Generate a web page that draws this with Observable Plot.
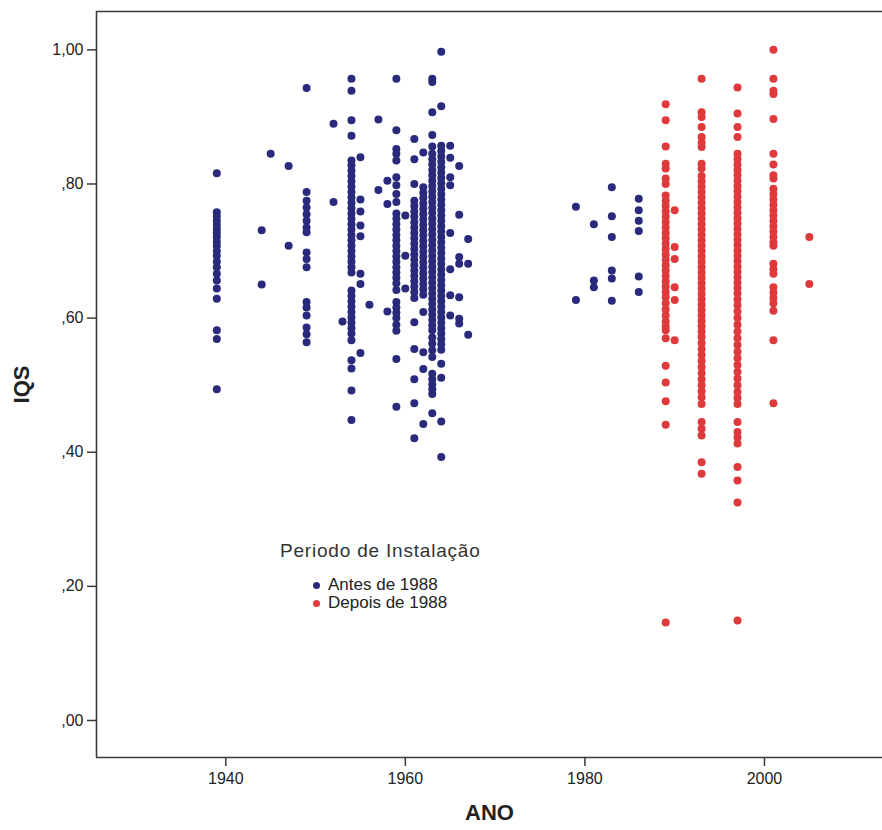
<!DOCTYPE html>
<html>
<head>
<meta charset="utf-8">
<script src="https://cdn.jsdelivr.net/npm/d3@7"></script>
<script src="https://cdn.jsdelivr.net/npm/@observablehq/plot@0.6"></script>
<style>
  body { margin: 0; background: #fff; }
  #wrap { position: relative; width: 882px; height: 830px; }
  #wrap svg { display: block; }
  g[aria-label="x-axis label"] text, g[aria-label="y-axis label"] text { font-weight: bold; font-size: 22px; }
  .lg { position: absolute; font-family: "Liberation Sans", Arial, sans-serif; color: #222; white-space: nowrap; }
  .lg-title { left: 280px; top: 540px; font-size: 19px; line-height: 22px; letter-spacing: 0.8px; color: #333; }
  .lg-item { left: 328px; font-size: 17px; line-height: 18px; }
  .lg-dot { position: absolute; width: 7px; height: 7px; border-radius: 50%; }
</style>
</head>
<body>
<div id="wrap"></div>
<script>
// ---- data ----
const xTicks = [1940, 1960, 1980, 2000];
const yTicks = [0, 0.2, 0.4, 0.6, 0.8, 1.0];
const periodos = ["Antes de 1988", "Depois de 1988"];
const cores = ["#2a2a7c", "#e0393c"];

const antes = [
  [1939, [0.816, 0.758, 0.752, 0.745, 0.739, 0.733, 0.727, 0.721, 0.714, 0.708, 0.700, 0.693, 0.684, 0.676, 0.666, 0.656, 0.644, 0.629, 0.582, 0.569, 0.494]],
  [1944, [0.731, 0.650]],
  [1945, [0.845]],
  [1947, [0.827, 0.708]],
  [1949, [0.943, 0.788, 0.775, 0.765, 0.755, 0.745, 0.735, 0.728, 0.698, 0.688, 0.676, 0.624, 0.616, 0.604, 0.586, 0.576, 0.564]],
  [1952, [0.890, 0.773]],
  [1953, [0.595]],
  [1954, [0.957, 0.939, 0.895, 0.872, 0.835, 0.828, 0.820, 0.812, 0.804, 0.796, 0.788, 0.780, 0.772, 0.764, 0.756, 0.748, 0.740, 0.732, 0.724, 0.716, 0.708, 0.700, 0.692, 0.684, 0.676, 0.668, 0.641, 0.633, 0.625, 0.617, 0.609, 0.601, 0.593, 0.585, 0.577, 0.567, 0.537, 0.525, 0.492, 0.448]],
  [1955, [0.840, 0.777, 0.759, 0.738, 0.722, 0.666, 0.651, 0.548]],
  [1956, [0.620]],
  [1957, [0.896, 0.791]],
  [1958, [0.805, 0.770, 0.610]],
  [1959, [0.957, 0.880, 0.852, 0.845, 0.835, 0.810, 0.798, 0.785, 0.773, 0.756, 0.748, 0.740, 0.732, 0.724, 0.716, 0.708, 0.700, 0.692, 0.684, 0.676, 0.668, 0.660, 0.652, 0.642, 0.624, 0.616, 0.608, 0.600, 0.590, 0.581, 0.539, 0.468]],
  [1960, [0.753, 0.693, 0.644]],
  [1961, [0.867, 0.837, 0.800, 0.775, 0.767, 0.759, 0.751, 0.743, 0.735, 0.727, 0.719, 0.711, 0.703, 0.695, 0.687, 0.679, 0.671, 0.663, 0.655, 0.647, 0.639, 0.630, 0.594, 0.554, 0.509, 0.473, 0.421]],
  [1962, [0.847, 0.795, 0.787, 0.779, 0.771, 0.763, 0.755, 0.747, 0.739, 0.731, 0.723, 0.715, 0.707, 0.699, 0.691, 0.683, 0.675, 0.667, 0.659, 0.651, 0.643, 0.635, 0.609, 0.549, 0.524, 0.442]],
  [1963, [0.957, 0.952, 0.907, 0.873, 0.856, 0.845, 0.837, 0.829, 0.821, 0.813, 0.805, 0.797, 0.789, 0.781, 0.773, 0.765, 0.757, 0.749, 0.741, 0.733, 0.725, 0.717, 0.709, 0.701, 0.693, 0.685, 0.677, 0.669, 0.661, 0.653, 0.645, 0.637, 0.629, 0.621, 0.613, 0.605, 0.597, 0.589, 0.582, 0.571, 0.562, 0.552, 0.542, 0.517, 0.509, 0.501, 0.494, 0.487, 0.458]],
  [1964, [0.997, 0.916, 0.857, 0.849, 0.841, 0.833, 0.825, 0.817, 0.809, 0.801, 0.793, 0.785, 0.777, 0.769, 0.761, 0.753, 0.745, 0.737, 0.729, 0.721, 0.713, 0.705, 0.697, 0.689, 0.681, 0.673, 0.665, 0.657, 0.649, 0.641, 0.633, 0.625, 0.617, 0.609, 0.601, 0.593, 0.585, 0.577, 0.569, 0.561, 0.553, 0.532, 0.511, 0.446, 0.393]],
  [1965, [0.857, 0.839, 0.810, 0.798, 0.727, 0.673, 0.634, 0.604]],
  [1966, [0.827, 0.754, 0.691, 0.681, 0.631, 0.599, 0.592]],
  [1967, [0.718, 0.681, 0.575]],
  [1979, [0.766, 0.627]],
  [1981, [0.740, 0.656, 0.646]],
  [1983, [0.795, 0.752, 0.721, 0.671, 0.659, 0.626]],
  [1986, [0.778, 0.761, 0.745, 0.730, 0.662, 0.639]]
];

const depois = [
  [1989, [0.919, 0.895, 0.856, 0.830, 0.823, 0.808, 0.800, 0.783, 0.775, 0.767, 0.759, 0.751, 0.743, 0.735, 0.727, 0.719, 0.711, 0.703, 0.695, 0.687, 0.679, 0.671, 0.663, 0.655, 0.647, 0.639, 0.631, 0.622, 0.613, 0.604, 0.595, 0.588, 0.582, 0.570, 0.529, 0.504, 0.476, 0.441, 0.146]],
  [1990, [0.761, 0.706, 0.688, 0.646, 0.627, 0.567]],
  [1993, [0.957, 0.907, 0.900, 0.885, 0.870, 0.862, 0.855, 0.830, 0.823, 0.812, 0.804, 0.796, 0.788, 0.780, 0.772, 0.764, 0.756, 0.748, 0.740, 0.732, 0.724, 0.716, 0.708, 0.700, 0.692, 0.684, 0.676, 0.668, 0.660, 0.652, 0.644, 0.636, 0.628, 0.620, 0.612, 0.604, 0.596, 0.588, 0.580, 0.572, 0.563, 0.554, 0.545, 0.536, 0.527, 0.518, 0.509, 0.500, 0.491, 0.482, 0.472, 0.445, 0.435, 0.425, 0.385, 0.368]],
  [1997, [0.944, 0.905, 0.885, 0.870, 0.845, 0.837, 0.829, 0.821, 0.813, 0.805, 0.797, 0.789, 0.781, 0.773, 0.765, 0.757, 0.749, 0.741, 0.733, 0.725, 0.717, 0.709, 0.701, 0.693, 0.685, 0.677, 0.669, 0.661, 0.653, 0.645, 0.637, 0.628, 0.619, 0.610, 0.600, 0.590, 0.580, 0.570, 0.560, 0.550, 0.540, 0.530, 0.520, 0.510, 0.500, 0.490, 0.481, 0.472, 0.445, 0.430, 0.422, 0.413, 0.378, 0.358, 0.325, 0.149]],
  [2001, [1.000, 0.957, 0.939, 0.934, 0.897, 0.845, 0.829, 0.813, 0.808, 0.793, 0.785, 0.777, 0.769, 0.761, 0.753, 0.745, 0.737, 0.729, 0.721, 0.713, 0.708, 0.681, 0.673, 0.666, 0.646, 0.638, 0.630, 0.622, 0.611, 0.567, 0.473]],
  [2005, [0.721, 0.651]]
];

// ---- build table ----
const rows = [];
for (const [ano, vals] of antes) for (const v of vals) rows.push({ano, iqs: v, periodo: periodos[0]});
for (const [ano, vals] of depois) for (const v of vals) rows.push({ano, iqs: v, periodo: periodos[1]});

const xDomain = [1925.6, 2013.15];
const yDomain = [-0.0552, 1.0572];
const fmtY = d => { const s = d.toFixed(2).replace(".", ","); return s.startsWith("0") ? s.slice(1) : s; };

const chart = Plot.plot({
  width: 882,
  height: 830,
  marginLeft: 96,
  marginRight: 0,
  marginTop: 11,
  marginBottom: 73,
  style: {fontFamily: "'Liberation Sans', Arial, sans-serif", fontSize: "16px", color: "#222", background: "#fff"},
  x: {domain: xDomain},
  y: {domain: yDomain},
  color: {domain: periodos, range: cores},
  marks: [
    Plot.ruleY([yDomain[1]], {stroke: "#3a3a3a", strokeWidth: 1.6}),
    Plot.dot(rows, {x: "ano", y: "iqs", fill: "periodo", r: 4, stroke: "none"}),
    Plot.ruleX([xDomain[0]], {stroke: "#3a3a3a", strokeWidth: 1.6}),
    Plot.ruleY([yDomain[0]], {stroke: "#3a3a3a", strokeWidth: 1.6}),
    Plot.axisX({ticks: xTicks, tickFormat: d => String(d), tickSize: 9, tickPadding: 6, stroke: "#3a3a3a", strokeWidth: 1.5,
      label: "ANO", labelAnchor: "center", labelArrow: "none", labelOffset: 62}),
    Plot.axisY({ticks: yTicks, tickFormat: fmtY, tickSize: 9, tickPadding: 4, stroke: "#3a3a3a", strokeWidth: 1.5,
      label: "IQS", labelAnchor: "center", labelArrow: "none", labelOffset: 83})
  ]
});

const wrap = document.getElementById("wrap");
wrap.appendChild(chart);

// ---- legend (inside the plot area, as in the reference) ----
const title = document.createElement("div");
title.className = "lg lg-title";
title.textContent = "Periodo de Instalação";
wrap.appendChild(title);
periodos.forEach((p, i) => {
  const item = document.createElement("div");
  item.className = "lg lg-item";
  item.style.top = (576 + i * 18) + "px";
  item.textContent = p;
  wrap.appendChild(item);
  const dot = document.createElement("div");
  dot.className = "lg-dot";
  dot.style.background = cores[i];
  dot.style.left = "313px";
  dot.style.top = (582 + i * 18) + "px";
  wrap.appendChild(dot);
});
</script>
</body>
</html>
